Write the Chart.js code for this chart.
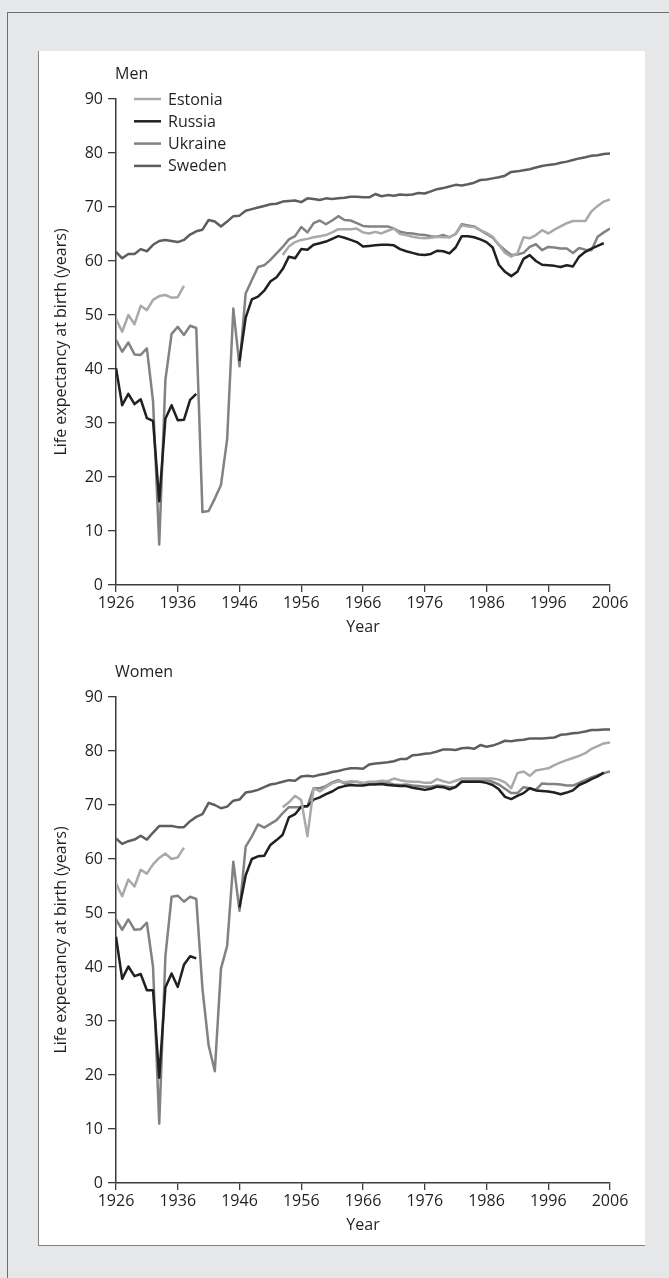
<!DOCTYPE html>
<html>
<head>
<meta charset="utf-8">
<script src="https://cdn.jsdelivr.net/npm/chart.js@4.4.1/dist/chart.umd.min.js"></script>
<style>
  html, body { margin: 0; padding: 0; }
  body { width: 669px; height: 1278px; background: #e6e7e8; position: relative; overflow: hidden; }
  .frame { position: absolute; left: 7px; top: 12px; right: 0; bottom: 0; border-top: 1px solid #6d6e71; border-left: 1px solid #6d6e71; }
  .panel { position: absolute; left: 38px; top: 51px; width: 606px; height: 1194px; background: #fff;
           border-left: 1px solid #808285; border-bottom: 1px solid #808285; box-sizing: content-box; }
  canvas { position: absolute; left: 38px; }
</style>
</head>
<body>
<div class="frame"></div>
<div class="panel"></div>
<canvas id="men" width="606" height="595" style="top:51px"></canvas>
<canvas id="women" width="606" height="595" style="top:649px"></canvas>
<script>
/* Life expectancy at birth, 1926–2006 */
const yearTicks = [1926, 1936, 1946, 1956, 1966, 1976, 1986, 1996, 2006];
const countries = ['Estonia', 'Russia', 'Ukraine', 'Sweden'];

// Men
const swedenMen = [61.7, 60.5, 61.3, 61.3, 62.2, 61.8, 63.0, 63.7, 63.9, 63.7,
  63.5, 63.9, 64.9, 65.5, 65.8, 67.6, 67.3, 66.4, 67.3, 68.3,
  68.4, 69.3, 69.6, 69.9, 70.2, 70.5, 70.6, 71.0, 71.1, 71.2,
  70.9, 71.6, 71.5, 71.3, 71.6, 71.5, 71.6, 71.7, 71.9, 71.9,
  71.8, 71.8, 72.4, 72.0, 72.2, 72.1, 72.3, 72.2, 72.3, 72.6,
  72.5, 72.9, 73.3, 73.5, 73.8, 74.1, 74.0, 74.2, 74.5, 75.0,
  75.1, 75.3, 75.5, 75.8, 76.5, 76.6, 76.8, 77.0, 77.3, 77.6,
  77.8, 77.9, 78.2, 78.4, 78.7, 79.0, 79.2, 79.5, 79.6, 79.8,
  79.9];                                              // 1926–2006
const estoniaMenEarly = [49.3, 46.9, 50.0, 48.3, 51.7, 50.9, 52.8, 53.5, 53.7, 53.2, 53.3, 55.4]; // 1926–1937
const estoniaMenLate = [61.1, 62.7, 63.5, 63.9, 64.1, 64.4, 64.6, 64.8, 65.3, 65.9,
  65.9, 65.9, 66.0, 65.3, 65.1, 65.4, 65.1, 65.6, 66.0, 65.0,
  64.8, 64.5, 64.3, 64.2, 64.3, 64.5, 64.4, 64.4, 65.0, 66.6,
  66.4, 66.3, 65.7, 65.2, 64.5, 63.0, 61.5, 60.8, 61.4, 64.4,
  64.2, 64.8, 65.7, 65.1, 65.8, 66.4, 67.0, 67.4, 67.4, 67.4,
  69.2, 70.2, 71.0, 71.4];                            // 1953–2006
const russiaMenEarly = [40.2, 33.3, 35.4, 33.5, 34.4, 30.9, 30.4, 15.5, 30.8, 33.3, 30.5, 30.6, 34.3, 35.4]; // 1926–1939
const russiaMenLate = [41.5, 49.5, 52.9, 53.4, 54.5, 56.2, 57.0, 58.5, 60.8, 60.5,
  62.2, 62.1, 63.0, 63.3, 63.6, 64.1, 64.6, 64.3, 63.9, 63.5,
  62.7, 62.8, 62.9, 63.0, 63.0, 62.9, 62.2, 61.8, 61.5, 61.2,
  61.1, 61.3, 61.9, 61.8, 61.4, 62.5, 64.6, 64.6, 64.4, 64.0,
  63.5, 62.5, 59.3, 58.0, 57.2, 58.0, 60.4, 61.1, 60.0, 59.3,
  59.2, 59.1, 58.9, 59.2, 59.0, 60.8, 61.7, 62.3, 62.8, 63.3]; // 1946–2005
const ukraineMen = [45.4, 43.2, 44.9, 42.7, 42.6, 43.8, 34.0, 7.5, 38.0, 46.5,
  47.8, 46.3, 48.0, 47.6, 13.5, 13.7, 16.0, 18.5, 27.0, 51.2,
  40.5, 54.0, 56.5, 58.9, 59.2, 60.2, 61.4, 62.6, 64.0, 64.6,
  66.3, 65.3, 67.0, 67.5, 66.8, 67.5, 68.3, 67.6, 67.5, 67.0,
  66.5, 66.4, 66.4, 66.4, 66.4, 66.0, 65.4, 65.2, 65.1, 64.9,
  64.8, 64.6, 64.5, 64.8, 64.4, 65.0, 66.8, 66.6, 66.4, 65.7,
  65.0, 64.3, 63.0, 62.0, 61.1, 61.2, 61.5, 62.6, 63.1, 62.0,
  62.6, 62.5, 62.3, 62.3, 61.5, 62.4, 62.1, 62.0, 64.5, 65.3,
  66.0];                                              // 1926–2006

// Women
const swedenWomen = [63.8, 62.8, 63.3, 63.6, 64.3, 63.6, 64.9, 66.1, 66.1, 66.1,
  65.9, 65.9, 67.0, 67.8, 68.3, 70.4, 70.0, 69.4, 69.7, 70.8,
  71.0, 72.3, 72.5, 72.8, 73.3, 73.8, 74.0, 74.3, 74.6, 74.5,
  75.3, 75.4, 75.3, 75.6, 75.8, 76.1, 76.3, 76.6, 76.8, 76.8,
  76.7, 77.5, 77.7, 77.8, 77.9, 78.1, 78.5, 78.5, 79.2, 79.3,
  79.5, 79.6, 79.9, 80.3, 80.3, 80.2, 80.5, 80.6, 80.4, 81.1,
  80.8, 81.0, 81.4, 81.9, 81.8, 82.0, 82.1, 82.3, 82.3, 82.3,
  82.4, 82.5, 83.0, 83.1, 83.3, 83.4, 83.6, 83.9, 83.9, 84.0,
  84.0];                                              // 1926–2006
const estoniaWomenEarly = [55.5, 53.1, 56.2, 54.9, 58.0, 57.3, 59.0, 60.2, 61.0, 60.0, 60.3, 62.1]; // 1926–1937
const estoniaWomenLate = [69.6, 70.5, 71.7, 70.9, 64.2, 73.1, 72.5, 73.3, 74.0, 74.4,
  74.2, 74.4, 74.3, 74.1, 74.3, 74.3, 74.5, 74.4, 74.9, 74.6,
  74.4, 74.3, 74.3, 74.1, 74.1, 74.8, 74.4, 74.1, 74.5, 74.9,
  74.9, 74.9, 74.9, 74.9, 74.9, 74.7, 74.2, 73.1, 75.9, 76.2,
  75.4, 76.4, 76.6, 76.8, 77.4, 77.9, 78.3, 78.7, 79.1, 79.6,
  80.4, 80.9, 81.4, 81.6];                            // 1953–2006
const russiaWomenEarly = [45.6, 37.8, 40.1, 38.3, 38.7, 35.7, 35.7, 19.5, 36.2, 38.8, 36.3, 40.4, 42.0, 41.6]; // 1926–1939
const russiaWomenLate = [51.0, 57.0, 60.0, 60.5, 60.6, 62.6, 63.5, 64.5, 67.7, 68.3,
  69.7, 69.8, 71.0, 71.4, 72.0, 72.5, 73.2, 73.5, 73.7, 73.6,
  73.6, 73.8, 73.8, 73.9, 73.7, 73.6, 73.5, 73.5, 73.2, 73.0,
  72.8, 73.0, 73.4, 73.3, 72.9, 73.3, 74.3, 74.3, 74.3, 74.3,
  74.1, 73.7, 72.9, 71.5, 71.1, 71.7, 72.2, 73.1, 72.7, 72.6,
  72.5, 72.3, 72.0, 72.3, 72.7, 73.7, 74.2, 74.8, 75.3, 76.0]; // 1946–2005
const ukraineWomen = [48.8, 46.9, 48.8, 46.9, 47.0, 48.2, 40.0, 11.0, 42.0, 53.0,
  53.2, 52.1, 53.0, 52.6, 36.0, 25.5, 20.7, 39.7, 43.9, 59.5,
  50.4, 62.3, 64.2, 66.4, 65.8, 66.5, 67.2, 68.5, 69.6, 69.6,
  69.6, 69.7, 73.1, 73.1, 73.5, 74.2, 74.6, 74.0, 74.2, 74.3,
  74.0, 73.9, 74.0, 74.1, 74.1, 73.8, 73.7, 73.8, 73.6, 73.5,
  73.4, 73.4, 73.6, 73.5, 73.3, 73.4, 74.4, 74.5, 74.5, 74.5,
  74.6, 74.3, 73.8, 73.0, 72.2, 72.2, 73.3, 73.1, 72.8, 74.0,
  73.9, 73.9, 73.8, 73.6, 73.6, 74.1, 74.6, 75.1, 75.5, 75.9,
  76.2];                                              // 1926–2006

(function () {
  'use strict';
  const FONT = "'Open Sans', 'Noto Sans', sans-serif";
  const INK = '#231f20';
  const AXIS = '#3c3c3e';
  const COLORS = { Estonia: '#a7a9ac', Russia: '#231f20', Ukraine: '#808285', Sweden: '#5d5e60' };

  const pts = (start, values) => values.map((v, i) => ({ x: start + i, y: v }));
  // two runs of one country, with a break between them
  const runs = (a, aStart, b, bStart) => pts(aStart, a).concat([{ x: aStart + a.length, y: null }], pts(bStart, b));

  function line(label, data) {
    return { label, data, borderColor: COLORS[label], backgroundColor: COLORS[label],
      borderWidth: 2.5, pointRadius: 0, tension: 0, spanGaps: false,
      borderJoinStyle: 'round', borderCapStyle: 'butt', fill: false };
  }

  /* Titre du panneau + légende dessinée dans la zone de tracé */
  const decor = (title, legend) => ({
    id: 'decor',
    afterDraw(chart) {
      const { ctx, chartArea } = chart;
      ctx.save();
      ctx.font = '16px ' + FONT;
      ctx.fillStyle = INK;
      ctx.textBaseline = 'middle';
      ctx.fillText(title, chartArea.left - 1, chartArea.top - 25);
      if (legend) chart.data.datasets.forEach((ds, i) => {
        const y = chartArea.top + i * 22.3;
        ctx.strokeStyle = ds.borderColor; ctx.lineWidth = 2.5;
        ctx.beginPath(); ctx.moveTo(chartArea.left + 18, y); ctx.lineTo(chartArea.left + 45, y); ctx.stroke();
        ctx.fillText(ds.label, chartArea.left + 52, y + 1);
      });
      ctx.restore();
    },
  });

  function scales() {
    const font = { family: FONT, size: 16 };
    return {
      x: {
        type: 'linear', min: yearTicks[0], max: yearTicks[yearTicks.length - 1], offset: false,
        afterBuildTicks: s => { s.ticks = yearTicks.map(v => ({ value: v })); },
        afterFit: s => { s.height = 61; },
        grid: { drawOnChartArea: false, drawTicks: true, tickLength: 7, color: AXIS, lineWidth: 1.3 },
        border: { display: true, color: AXIS, width: 1.5 },
        ticks: { color: INK, font, padding: 2, maxRotation: 0, autoSkip: false, callback: v => String(v) },
        title: { display: true, text: 'Year', color: INK, font, padding: { top: 0, bottom: 9 } },
      },
      y: {
        min: 0, max: 90,
        ticks: { stepSize: 10, color: INK, font, padding: 5, callback: v => String(v) },
        afterFit: s => { s.width = 78; },
        grid: { drawOnChartArea: false, drawTicks: true, tickLength: 8, color: AXIS, lineWidth: 1.3 },
        border: { display: true, color: AXIS, width: 1.5 },
        title: { display: true, text: 'Life expectancy at birth (years)', color: INK, font, padding: { top: 14, bottom: 0 } },
      },
    };
  }

  function draw(id, title, legend, sets) {
    const canvas = document.getElementById(id);
    return new Chart(canvas.getContext('2d'), {
      type: 'line',
      data: { datasets: countries.map(c => line(c, sets[c])) },
      options: {
        responsive: false, animation: false, devicePixelRatio: 1,
        layout: { padding: { top: 48, right: 34, left: 0, bottom: 0 } },
        plugins: { legend: { display: false }, tooltip: { enabled: false } },
        scales: scales(),
      },
      plugins: [decor(title, legend)],
    });
  }

  draw('men', 'Men', true, {
    Estonia: runs(estoniaMenEarly, 1926, estoniaMenLate, 1953),
    Russia: runs(russiaMenEarly, 1926, russiaMenLate, 1946),
    Ukraine: pts(1926, ukraineMen),
    Sweden: pts(1926, swedenMen),
  });
  draw('women', 'Women', false, {
    Estonia: runs(estoniaWomenEarly, 1926, estoniaWomenLate, 1953),
    Russia: runs(russiaWomenEarly, 1926, russiaWomenLate, 1946),
    Ukraine: pts(1926, ukraineWomen),
    Sweden: pts(1926, swedenWomen),
  });
})();
</script>
</body>
</html>
